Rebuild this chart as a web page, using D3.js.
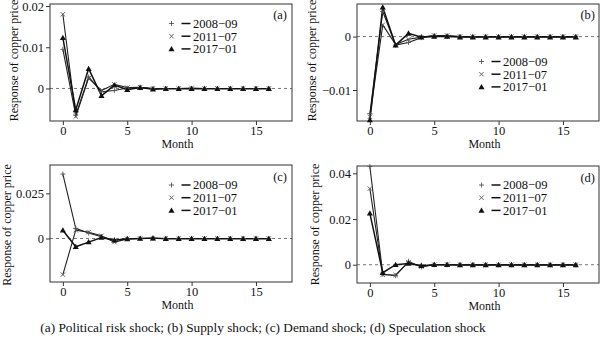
<!DOCTYPE html>
<html><head><meta charset="utf-8">
<script src="https://cdn.jsdelivr.net/npm/d3@7"></script>
<style>
body{margin:0;background:#fff;}
svg text{font-family:"Liberation Serif","Times New Roman","DejaVu Serif",serif;fill:#111;}
</style></head>
<body><svg id="c" width="600" height="343" font-family="Liberation Serif, Times New Roman, serif"></svg>
<script>
const months = d3.range(0, 17);
const seriesNames = ["2008\u221209", "2011\u221207", "2017\u221201"];
const panelLabels = ["(a)", "(b)", "(c)", "(d)"];
const caption = "(a) Political risk shock; (b) Supply shock; (c) Demand shock; (d) Speculation shock";

// Panel (a) Political risk shock
const a2008 = [0.0095,-0.0065,0.0028,-0.0008,-0.0005,0.0001,0.0002,0,0,0,0,0,0,0,0,0,0];
const a2011 = [0.0180,-0.0068,0.0025,-0.0005,0.0010,0.0002,0.0003,0,0,0,0.0001,0,0,0,0,0,0];
const a2017 = [0.0123,-0.0052,0.0048,-0.0018,0.0008,-0.0003,0.0002,-0.0002,-0.0001,-0.0001,-0.0001,-0.0001,-0.0001,-0.0001,-0.0001,-0.0001,-0.0001];
// Panel (b) Supply shock
const b2008 = [-0.0144,0.0047,-0.0016,-0.0011,-0.0002,0.0002,0.0001,0,0,0,0,0,0,0,0,0,0];
const b2011 = [-0.0150,0.0022,-0.0015,-0.0005,-0.0001,0.0002,0.0002,0,0,0,0,0,0,0,0,0,0];
const b2017 = [-0.0156,0.0055,-0.0016,0.0006,-0.0001,0,0,-0.0001,-0.0001,-0.0001,-0.0001,-0.0001,-0.0001,-0.0001,-0.0001,-0.0001,-0.0001];
// Panel (c) Demand shock
const c2008 = [0.0357,0.0056,0.0030,0.0010,-0.0008,0,0,0,0,0,0,0,0,0,0,0,0];
const c2011 = [-0.0200,0.0046,0.0035,0.0015,-0.0020,-0.0002,0,0,0,0,0,0,0,0,0,0,0];
const c2017 = [0.0046,-0.0046,-0.0020,0.0005,-0.0010,-0.0003,0,0.0002,-0.0002,-0.0002,-0.0002,-0.0002,-0.0002,-0.0002,-0.0002,-0.0002,-0.0002];
// Panel (d) Speculation shock
const d2008 = [0.0430,-0.0041,-0.0048,0.0015,-0.0010,0,0,0,0,0,0,0,0,0,0,0,0];
const d2011 = [0.0333,-0.0044,-0.0045,0.0010,-0.0008,0,0.0001,0,0,0,0,0,0,0,0,0,0];
const d2017 = [0.0225,-0.0035,0.0000,0.0005,-0.0004,0,0,-0.0001,-0.0001,-0.0001,-0.0001,-0.0001,-0.0001,-0.0001,-0.0001,-0.0001,-0.0001];

const yTicksA = [0, 0.01, 0.02], yTickLabA = ["0","0.01","0.02"];
const yTicksB = [-0.01, 0], yTickLabB = ["\u22120.01","0"];
const yTicksC = [0, 0.025], yTickLabC = ["0","0.025"];
const yTicksD = [0, 0.02, 0.04], yTickLabD = ["0","0.02","0.04"];
const xTicks = [0, 5, 10, 15];

const panels = [
  {series:[a2008,a2011,a2017], yDom:[-0.0079,0.0205], yt:yTicksA, yl:yTickLabA, box:[50,292,4,121], leg:[171.5,23.5], lab:[287,19], yt2:[17.5,60.5]},
  {series:[b2008,b2011,b2017], yDom:[-0.0158,0.0061], yt:yTicksB, yl:yTickLabB, box:[357,599,4,121], leg:[481.5,61.5], lab:[595,19], yt2:[316,60.5]},
  {series:[c2008,c2011,c2017], yDom:[-0.0241,0.0407], yt:yTicksC, yl:yTickLabC, box:[50,292,165,282], leg:[171.5,185], lab:[287,180.7], yt2:[11,225]},
  {series:[d2008,d2011,d2017], yDom:[-0.008,0.0432], yt:yTicksD, yl:yTickLabD, box:[357,599,166,283], leg:[481.5,185], lab:[595,181.5], yt2:[318.5,224.5]}
];

const FONT = "Liberation Serif, Times New Roman, serif";
const svg = d3.select("#c");

function marker(g, type, x, y){
  if(type===0){
    g.append("path").attr("d",`M${x-2.5},${y}H${x+2.5}M${x},${y-2.5}V${y+2.5}`).attr("stroke","#555").attr("stroke-width",0.9).attr("fill","none");
  } else if(type===1){
    g.append("path").attr("d",`M${x-2.2},${y-2.2}L${x+2.2},${y+2.2}M${x-2.2},${y+2.2}L${x+2.2},${y-2.2}`).attr("stroke","#555").attr("stroke-width",0.9).attr("fill","none");
  } else {
    g.append("path").attr("d",d3.symbol(d3.symbolTriangle,16)()).attr("transform",`translate(${x},${y+0.5})`).attr("fill","#111");
  }
}

panels.forEach((p, i) => {
  const [x0,x1,y0,y1] = p.box;
  const x = d3.scaleLinear().domain([-1,17.8]).range([x0,x1]);
  const y = d3.scaleLinear().domain(p.yDom).range([y1,y0]);
  const g = svg.append("g").attr("font-family", FONT);

  // zero dashed line
  g.append("line").attr("x1",x0).attr("x2",x1).attr("y1",y(0)).attr("y2",y(0))
    .attr("stroke","#666").attr("stroke-width",0.9).attr("stroke-dasharray","3,3");

  // axes
  const xa = g.append("g").attr("transform",`translate(0,${y1})`)
    .call(d3.axisBottom(x).tickValues(xTicks).tickSize(4).tickPadding(1).tickSizeOuter(0));
  const ya = g.append("g").attr("transform",`translate(${x0},0)`)
    .call(d3.axisLeft(y).tickValues(p.yt).tickFormat((d,k)=>p.yl[k]).tickSize(4).tickPadding(2).tickSizeOuter(0));
  [xa,ya].forEach(a=>{
    a.attr("font-family", FONT).attr("font-size", 12.5);
    a.select(".domain").remove();
    a.selectAll("line").attr("stroke","#333");
    a.selectAll("text").attr("fill","#111");
  });

  // frame
  g.append("rect").attr("x",x0).attr("y",y0).attr("width",x1-x0).attr("height",y1-y0)
    .attr("fill","none").attr("stroke","#333").attr("stroke-width",1);

  // lines
  const line = d3.line().x((d,k)=>x(months[k])).y(d=>y(d));
  p.series.forEach((s, si) => {
    g.append("path").datum(s).attr("d",line).attr("fill","none")
      .attr("stroke", si===2 ? "#111" : "#222").attr("stroke-width", si===2 ? 1.5 : 1.1);
  });
  p.series.forEach((s, si) => {
    s.forEach((v,k)=>marker(g, si, x(months[k]), y(v)));
  });

  // panel label
  g.append("text").attr("x",p.lab[0]).attr("y",p.lab[1]).attr("text-anchor","end").attr("font-size",12.5).text(panelLabels[i]);

  // legend
  const [mx, ly] = p.leg;
  seriesNames.forEach((nm, si) => {
    const yy = ly + si*12.7;
    marker(g, si, mx, yy);
    g.append("line").attr("x1",mx+10).attr("x2",mx+19).attr("y1",yy).attr("y2",yy).attr("stroke","#111").attr("stroke-width",1.5);
    g.append("text").attr("x",mx+21.5).attr("y",yy+4.3).attr("font-size",12.5).text(nm);
  });

  // axis titles
  g.append("text").attr("x",x(8.9)).attr("y",y1+27).attr("text-anchor","middle").attr("font-size",12)
    .text("Month");
  g.append("text").attr("transform",`translate(${p.yt2[0]},${p.yt2[1]}) rotate(-90)`).attr("text-anchor","middle").attr("font-size",12)
    .text("Response of copper price");
});

svg.append("text").attr("x",263).attr("y",332).attr("text-anchor","middle").attr("font-size",13.3).attr("font-family",FONT).text(caption);
</script></body></html>
